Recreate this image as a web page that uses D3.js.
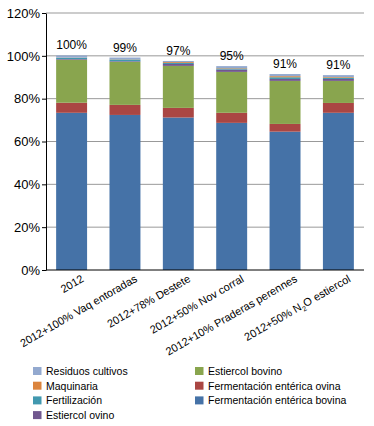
<!DOCTYPE html>
<html>
<head>
<meta charset="utf-8">
<script src="https://cdn.jsdelivr.net/npm/d3@7"></script>
<style>
  body { margin: 0; background: #fff; }
  svg { display: block; font-family: "Liberation Sans", Arial, sans-serif; }
</style>
</head>
<body>
<div id="chart"></div>
<script>
// Data {{{
const escenarios = ["2012", "2012+100% Vaq entoradas", "2012+78% Destete", "2012+50% Nov corral", "2012+10% Praderas perennes", "2012+50% N2O estiercol"];
const series = ["Fermentación entérica bovina", "Fermentación entérica ovina", "Estiercol bovino", "Estiercol ovino", "Fertilización", "Maquinaria", "Residuos cultivos"];
const ferm_bovina = [73.4, 72.4, 71.2, 68.7, 64.6, 73.4];
const ferm_ovina = [4.7, 4.7, 4.5, 4.7, 3.6, 4.6];
const estiercol_bovino = [20.1, 20.1, 19.6, 19.1, 20.1, 10.3];
const estiercol_ovino = [0.3, 0.3, 0.9, 1.1, 0.9, 0.9];
const fertilizacion = [0.6, 0.8, 0.5, 0.5, 0.8, 0.6];
const maquinaria = [0.1, 0.1, 0.4, 0.2, 0.5, 0.3];
const residuos = [1.0, 0.8, 0.5, 0.9, 1.0, 0.9];
const totales = ["100%", "99%", "97%", "95%", "91%", "91%"];
const y_ticks = [0, 20, 40, 60, 80, 100, 120];
// legend order, as in the original (two columns)
const legend_order = ["Residuos cultivos", "Maquinaria", "Fertilización", "Estiercol ovino", "Estiercol bovino", "Fermentación entérica ovina", "Fermentación entérica bovina"];
// }}}
// Consts {{{
const W = 374, H = 426;
const margin = {top: 13, right: 10, bottom: 156, left: 46};
const width = W - margin.left - margin.right;
const height = H - margin.top - margin.bottom;
const colors = ["#4572A7", "#AA4643", "#89A54E", "#71588F", "#4198AF", "#DB843D", "#93A9CF"];
const grid_color = "#999999";
// }}}

const rows = escenarios.map((e, i) => {
    const r = {name: e};
    const vals = [ferm_bovina, ferm_ovina, estiercol_bovino, estiercol_ovino, fertilizacion, maquinaria, residuos];
    series.forEach((s, j) => { r[s] = vals[j][i]; });
    return r;
});

const stacked = d3.stack().keys(series)(rows);

const svg_root = d3.select("#chart").append("svg")
    .attr("width", W)
    .attr("height", H);
const svg = svg_root.append("g")
    .attr("transform", "translate(" + margin.left + "," + margin.top + ")");

const x = d3.scaleBand().domain(escenarios).range([0, width]).paddingInner(0.42).paddingOuter(0.19);
const y = d3.scaleLinear().domain([0, 120]).range([height, 0]);
const color = d3.scaleOrdinal().domain(series).range(colors);

// gridlines
svg.append("g")
    .selectAll("line")
    .data(y_ticks.filter(d => d > 0))
    .enter()
    .append("line")
    .attr("x1", 0)
    .attr("x2", width)
    .attr("y1", d => y(d))
    .attr("y2", d => y(d))
    .attr("stroke", grid_color)
    .attr("stroke-width", 1);

// bars
svg.append("g")
    .selectAll("g")
    .data(stacked)
    .enter()
    .append("g")
    .attr("fill", d => color(d.key))
    .selectAll("rect")
    .data(d => d)
    .enter()
    .append("rect")
    .attr("x", d => x(d.data.name))
    .attr("y", d => y(d[1]))
    .attr("height", d => y(d[0]) - y(d[1]))
    .attr("width", x.bandwidth());

// total labels
const top_layer = stacked[stacked.length - 1];
svg.append("g")
    .selectAll("text")
    .data(top_layer)
    .enter()
    .append("text")
    .attr("x", d => x(d.data.name) + x.bandwidth() / 2)
    .attr("y", d => y(d[1]) - 6)
    .attr("text-anchor", "middle")
    .attr("font-size", "12px")
    .attr("fill", "#000")
    .text((d, i) => totales[i]);

// y axis
const yAxis = svg.append("g")
    .call(d3.axisLeft(y).tickValues(y_ticks).tickFormat(d => d + "%").tickSize(4).tickSizeOuter(0));
yAxis.select(".domain").attr("stroke", "#000");
yAxis.selectAll(".tick line").attr("stroke", "#000");
yAxis.selectAll(".tick text").attr("font-size", "13px").attr("fill", "#000").attr("x", -6)
    .attr("font-family", "Liberation Sans, Arial, sans-serif");

// x axis
svg.append("line")
    .attr("x1", 0).attr("x2", width)
    .attr("y1", height).attr("y2", height)
    .attr("stroke", "#000");

const xl = svg.append("g")
    .selectAll("text")
    .data(escenarios)
    .enter()
    .append("text")
    .attr("text-anchor", "end")
    .attr("font-size", "11px")
    .attr("fill", "#000")
    .attr("transform", d => "translate(" + (x(d) + x.bandwidth() / 2 + 13) + "," + (height + 11) + ") rotate(-30)");
xl.each(function(d) {
    const t = d3.select(this);
    if (d.indexOf("N2O") >= 0) {
        const parts = d.split("N2O");
        t.append("tspan").text(parts[0] + "N");
        t.append("tspan").attr("font-size", "7px").attr("dy", 3).text("2");
        t.append("tspan").attr("dy", -3).text("O" + parts[1]);
    } else {
        t.text(d);
    }
});

// legend
const legend = svg_root.append("g");
const leg = legend.selectAll("g")
    .data(legend_order)
    .enter()
    .append("g")
    .attr("transform", (d, i) => "translate(" + (i < 4 ? 33 : 195) + "," + (367 + (i % 4) * 14.7) + ")");
leg.append("rect")
    .attr("width", 8.5)
    .attr("height", 8)
    .attr("fill", d => color(d));
leg.append("text")
    .attr("x", 13)
    .attr("y", 8)
    .attr("font-size", "10.5px")
    .attr("fill", "#000")
    .text(d => d);
</script>
</body>
</html>
